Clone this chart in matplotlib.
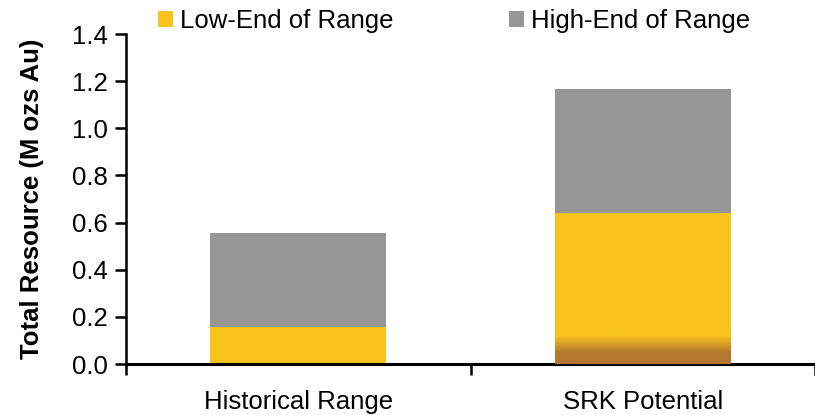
import numpy as np
import matplotlib.pyplot as plt
from matplotlib.colors import LinearSegmentedColormap

plt.rcParams['font.family'] = ['Liberation Sans', 'DejaVu Sans']

# data
categories = ['Historical Range', 'SRK Potential']
low_end = [0.157, 0.64]
high_end = [0.399, 0.527]
series_names = ['Low-End of Range', 'High-End of Range']

yellow = '#F8C31D'
gray = '#969696'
brown = '#B4772F'
fs = 18.5

fig = plt.figure(figsize=(8.15, 4.15), dpi=100)
ax = fig.add_axes([126/815, 51/415, 689/815, 330/415])

x = np.arange(len(categories))
b1 = ax.bar(x, low_end, width=0.51, color=yellow, label=series_names[0], zorder=2)
b2 = ax.bar(x, high_end, width=0.51, bottom=low_end, color=gray, label=series_names[1], zorder=2)

# brownish shading at the foot of the SRK bar
p = b1[1]
grad = np.linspace(0, 1, 200).reshape(-1, 1)
shade = LinearSegmentedColormap.from_list('shade', [(0, brown), (0.3, brown), (0.75, yellow), (1, yellow)])
x0, w = p.get_x(), p.get_width()
im = ax.imshow(grad, extent=[x0, x0 + w, 0, 0.16], origin='lower', aspect='auto',
               cmap=shade, interpolation='bilinear', zorder=3)
im.set_clip_path(p)

ax.set_xlim(-0.4986, 1.48)
ax.set_ylim(0, 1.4)
yt = np.arange(0, 1.41, 0.2)
ax.set_yticks(yt)
ax.set_yticklabels([f'{v:.1f}' for v in yt])
ax.set_xticks([-0.5, 0.5, 1.5])
ax.set_xticklabels([])
for xi, c in zip(x, categories):
    ax.text(xi, -0.112, c, ha='center', va='top', fontsize=fs)
ax.tick_params(axis='both', direction='out', length=8, width=1.8, labelsize=fs, colors='black')
ax.tick_params(axis='y', pad=5)
for s in ['top', 'right']:
    ax.spines[s].set_visible(False)
ax.spines['left'].set_linewidth(1.8)
ax.spines['bottom'].set_linewidth(2.2)
ax.set_ylabel('Total Resource (M ozs Au)', fontsize=fs, fontweight='bold', labelpad=20)

fig.legend(handles=[b1, b2], labels=series_names, loc='upper left', bbox_to_anchor=(158/815, 1 - 9/415),
           ncol=2, frameon=False, fontsize=fs, handlelength=0.6, handleheight=0.6,
           handletextpad=0.25, columnspacing=4.5, borderaxespad=0, borderpad=0)

fig.savefig('out.png', dpi=100)
